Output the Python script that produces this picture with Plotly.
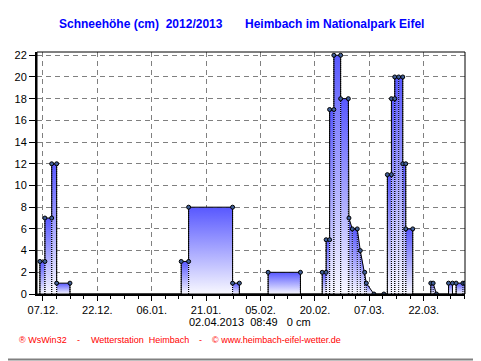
import plotly.graph_objects as go
import pandas as pd

# ---- data (snow depth polyline; a repeated time = vertical jump)
times = [
    "2012-12-06 04:00", "2012-12-06 04:00", "2012-12-07 13:00", "2012-12-07 13:00",
    "2012-12-09 10:00", "2012-12-09 10:00", "2012-12-10 19:00", "2012-12-10 19:00",
    "2012-12-14 11:00", "2012-12-14 11:00",
    "2013-01-14 03:00", "2013-01-14 03:00", "2013-01-16 04:00", "2013-01-16 04:00",
    "2013-01-28 07:00", "2013-01-28 07:00", "2013-01-30 04:00", "2013-01-30 04:00",
    "2013-02-07 02:00", "2013-02-07 02:00", "2013-02-16 00:00", "2013-02-16 00:00",
    "2013-02-22 00:00", "2013-02-22 00:00", "2013-02-23 02:00", "2013-02-23 02:00",
    "2013-02-24 01:00", "2013-02-24 01:00", "2013-02-25 05:00", "2013-02-25 05:00",
    "2013-02-27 02:00", "2013-02-27 02:00", "2013-03-01 05:00", "2013-03-01 09:00",
    "2013-03-02 07:00", "2013-03-03 16:00", "2013-03-04 12:00", "2013-03-05 17:00",
    "2013-03-06 04:00", "2013-03-08 06:00", "2013-03-11 00:00",
    "2013-03-11 23:00", "2013-03-11 23:00", "2013-03-13 02:00", "2013-03-13 02:00",
    "2013-03-14 00:00", "2013-03-14 00:00", "2013-03-15 02:00", "2013-03-16 05:00",
    "2013-03-16 05:00", "2013-03-17 01:00", "2013-03-17 01:00", "2013-03-18 23:00",
    "2013-03-18 23:00",
    "2013-03-23 22:30", "2013-03-23 22:30", "2013-03-24 14:00", "2013-03-25 12:00",
    "2013-03-28 20:00", "2013-03-28 20:00", "2013-03-29 22:00", "2013-03-29 22:00",
    "2013-03-30 22:00", "2013-03-30 22:00", "2013-04-01 19:00", "2013-04-02 08:30",
    "2013-04-02 08:30",
]
depth_cm = [
    0, 3, 3, 7,
    7, 12, 12, 1,
    1, 0,
    0, 3, 3, 8,
    8, 1, 1, 0,
    0, 2, 2, 0,
    0, 2, 2, 5,
    5, 17, 17, 22,
    22, 18, 18, 7,
    6, 6, 4, 2,
    1, 0, 0,
    0, 11, 11, 18,
    18, 20, 20, 20,
    12, 12, 6, 6,
    0,
    0, 1, 1, 0,
    0, 1, 1, 0,
    0, 1, 1, 1,
    0,
]

x_range = ["2012-12-05 08:49", "2013-04-02 08:49"]
tick_start = "2012-12-07"
y_max = 22
title_left = "Schneehöhe (cm)  2012/2013"
title_right = "Heimbach im Nationalpark Eifel"
status_text = "02.04.2013  08:49   0 cm"
footer_parts = ["® WsWin32", "-", "Wetterstation  Heimbach", "-", "© www.heimbach-eifel-wetter.de"]

FONT = "Arial, 'Liberation Sans', sans-serif"
ts = pd.to_datetime(times)
n = len(ts)

fig = go.Figure()

# gradient-filled segments
for i in range(n - 1):
    if ts[i + 1] > ts[i] and max(depth_cm[i], depth_cm[i + 1]) > 0:
        fig.add_trace(go.Scatter(
            x=[ts[i], ts[i], ts[i + 1], ts[i + 1], ts[i]],
            y=[0, depth_cm[i], depth_cm[i + 1], 0, 0],
            mode="lines", line=dict(width=0), fill="toself",
            fillgradient=dict(type="vertical",
                              colorscale=[[0, "rgb(248,248,255)"], [1, "rgb(88,88,255)"]]),
            hoverinfo="skip", showlegend=False))

# dotted verticals at each reading
vx, vy = [], []
for t, v in zip(ts, depth_cm):
    if v > 0:
        vx += [t, t, None]
        vy += [0, v, None]
fig.add_trace(go.Scatter(x=vx, y=vy, mode="lines",
                         line=dict(color="black", width=1, dash="1px,1px"),
                         hoverinfo="skip", showlegend=False))

# outline
fig.add_trace(go.Scatter(x=ts, y=depth_cm, mode="lines",
                         line=dict(color="black", width=1),
                         hoverinfo="skip", showlegend=False))

# markers
mx, my = [], []
for i in range(n):
    same_prev = i > 0 and ts[i - 1] == ts[i]
    same_next = i < n - 1 and ts[i + 1] == ts[i]
    if depth_cm[i] > 0 or not (same_prev or same_next):
        mx.append(ts[i]); my.append(depth_cm[i])
fig.add_trace(go.Scatter(x=mx, y=my, mode="markers",
                         marker=dict(size=4, color="rgb(65,95,150)",
                                     line=dict(color="black", width=1)),
                         hoverinfo="skip", showlegend=False))

# page geometry (the page body adds an 8px offset to the figure)
OFF = 8
PW, PH = 481, 361
L, R, T, B = 37, 16, 52, 67          # plot box in page coordinates
pw, ph = PW - L - R, PH - T - B


def px(xp):
    return (xp - L) / pw


def py(yp):
    return (PH - B - yp) / ph


annotations = [
    dict(text="<b>" + title_left.replace("  ", "\u00a0\u00a0") + "</b>", x=px(57), y=py(24),
         xanchor="left", yanchor="middle", font=dict(size=12, color="#0000FF", family=FONT)),
    dict(text="<b>" + title_right + "</b>", x=px(243), y=py(24),
         xanchor="left", yanchor="middle", font=dict(size=12, color="#0000FF", family=FONT)),
    dict(text=status_text.replace("  ", "\u00a0\u00a0").replace("\u00a0 ", "\u00a0\u00a0"),
         x=px(250), y=py(322), xanchor="center", yanchor="middle",
         font=dict(size=11, color="black", family=FONT)),
]
foot_pos = [(16.5, "left"), (78, "center"), (88.5, "left"), (200, "center"), (210, "left")]
for txt, (xp, anc) in zip(footer_parts, foot_pos):
    annotations.append(dict(text=txt.replace("  ", "\u00a0\u00a0"), x=px(xp), y=py(340),
                            xanchor=anc, yanchor="middle",
                            font=dict(size=9, color="#FF0000", family=FONT)))
for a in annotations:
    a.update(xref="paper", yref="paper", showarrow=False)

shapes = [
    dict(type="rect", xref="paper", yref="paper", x0=0, y0=0, x1=1, y1=1,
         line=dict(color="black", width=1), layer="above"),
    dict(type="line", xref="paper", yref="paper", x0=px(479.5), x1=px(479.5),
         y0=py(361), y1=py(OFF), line=dict(color="rgb(128,128,128)", width=2)),
    dict(type="line", xref="paper", yref="paper", x0=px(OFF), x1=px(481),
         y0=py(359.5), y1=py(359.5), line=dict(color="rgb(128,128,128)", width=2)),
]

fig.update_layout(
    width=PW - OFF, height=PH - OFF,
    margin=dict(l=L - OFF, r=R, t=T - OFF, b=B, autoexpand=False),
    paper_bgcolor="white", plot_bgcolor="white",
    font=dict(family=FONT, size=11, color="black"),
    annotations=annotations, shapes=shapes, showlegend=False,
    xaxis=dict(type="date", range=x_range, tick0=tick_start, dtick=15 * 86400000,
               tickformat="%d.%m.", ticks="outside", ticklen=5, tickcolor="black",
               showline=True, linewidth=2, linecolor="black",
               showgrid=True, gridcolor="rgb(128,128,128)", griddash="5px,4px", gridwidth=1,
               minor=dict(dtick=15 * 86400000 / 4, tick0=tick_start, ticks="outside",
                          ticklen=3, tickcolor="black", showgrid=False),
               tickfont=dict(size=11, color="black", family=FONT), zeroline=False,
               automargin=False, fixedrange=True),
    yaxis=dict(range=[0, y_max + 0.3], tick0=0, dtick=2, ticks="outside", ticklen=6,
               tickcolor="black", showline=True, linewidth=2, linecolor="black",
               showgrid=True, gridcolor="rgb(128,128,128)", griddash="5px,4px", gridwidth=1,
               zeroline=False, tickfont=dict(size=11, color="black", family=FONT),
               automargin=False, fixedrange=True),
)

fig.write_html("out.html")
